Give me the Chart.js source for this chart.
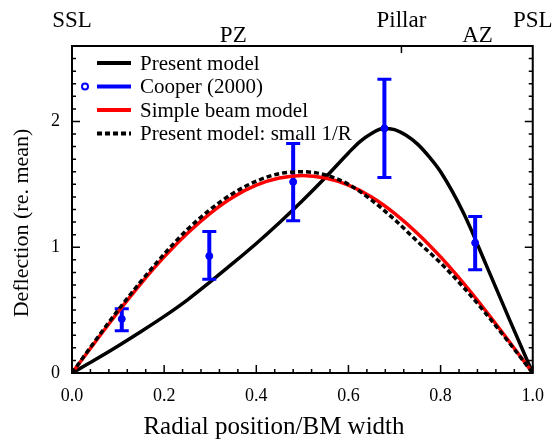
<!DOCTYPE html>
<html>
<head>
<meta charset="utf-8">
<script src="https://cdn.jsdelivr.net/npm/chart.js@4.4.0/dist/chart.umd.min.js"></script>
<style>
html, body { margin: 0; padding: 0; background: #fff; }
</style>
</head>
<body>
<canvas id="deflChart" width="556" height="443"></canvas>
<script>
const serif = '"Liberation Serif", "Times New Roman", serif';

// radial positions (fraction of BM width) the curves were read at
const xPos = [0, 0.05, 0.1, 0.15, 0.2, 0.25, 0.3, 0.35, 0.4, 0.45, 0.5,
              0.55, 0.6, 0.65, 0.7, 0.75, 0.8, 0.85, 0.9, 0.95, 1.0];
const presentX = [0, 0.05, 0.1, 0.15, 0.2, 0.25, 0.3, 0.35, 0.4, 0.45, 0.5, 0.55,
                  0.6, 0.625, 0.65, 0.675, 0.7, 0.725, 0.75, 0.775, 0.8, 0.85, 0.9, 0.95, 1.0];
const presentModel = [0, 0.105, 0.215, 0.33, 0.45, 0.58, 0.725, 0.875, 1.03, 1.195, 1.37, 1.555,
                      1.75, 1.84, 1.905, 1.945, 1.935, 1.89, 1.82, 1.72, 1.6, 1.27, 0.85, 0.42, 0];
const simpleBeam = [0, 0.245, 0.485, 0.713, 0.923, 1.11, 1.27, 1.4, 1.494, 1.55, 1.571,
                    1.55, 1.494, 1.4, 1.27, 1.11, 0.923, 0.713, 0.485, 0.245, 0];
const smallInvR = [0, 0.255, 0.5, 0.73, 0.945, 1.14, 1.3, 1.43, 1.525, 1.585, 1.6,
                   1.575, 1.5, 1.375, 1.22, 1.045, 0.875, 0.68, 0.465, 0.235, 0];

// Cooper (2000) measurements with error bars
const cooperX = [0.108, 0.298, 0.48, 0.678, 0.875];
const cooperY = [0.43, 0.93, 1.52, 1.945, 1.035];
const cooperLow = [0.335, 0.745, 1.21, 1.555, 0.82];
const cooperHigh = [0.51, 1.125, 1.825, 2.336, 1.245];

// labels along the top edge
const topNames = ['SSL', 'PZ', 'Pillar', 'AZ', 'PSL'];
const topSpots = [0, 0.35, 0.715, 0.88, 1.0];
const topRows = [0, 1, 0, 1, 0];

const legendNames = ['Present model', 'Cooper (2000)', 'Simple beam model', 'Present model: small 1/R'];
const xTitle = 'Radial position/BM width';
const yTitle = 'Deflection (re. mean)';

function pts(xs, ys) {
    return xs.map((x, i) => ({ x: x, y: ys[i] }));
}

// error bars for the Cooper points, drawn right after that dataset
const errorBars = {
    id: 'errorBars',
    afterDatasetDraw(chart, args) {
        if (args.index !== 1) return;
        const { ctx, scales: { x, y } } = chart;
        ctx.save();
        ctx.strokeStyle = '#0000ff';
        cooperX.forEach((v, i) => {
            const px = x.getPixelForValue(v);
            const top = y.getPixelForValue(cooperHigh[i]);
            const bot = y.getPixelForValue(cooperLow[i]);
            ctx.lineWidth = 4;
            ctx.beginPath();
            ctx.moveTo(px, top);
            ctx.lineTo(px, bot);
            ctx.stroke();
            ctx.lineWidth = 3;
            ctx.beginPath();
            ctx.moveTo(px - 7, top); ctx.lineTo(px + 7, top);
            ctx.moveTo(px - 7, bot); ctx.lineTo(px + 7, bot);
            ctx.stroke();
        });
        ctx.restore();
    }
};

// box frame, inward ticks, legend, top labels and axis titles
const decorations = {
    id: 'decorations',
    afterDraw(chart) {
        const { ctx, chartArea: a, scales: { x, y } } = chart;
        ctx.save();
        ctx.strokeStyle = '#000';
        ctx.lineWidth = 1.5;
        ctx.beginPath();
        for (let i = 0; i <= 26; i++) {
            const py = y.getPixelForValue(i / 10);
            const len = i % 10 === 0 ? 8 : 4;
            ctx.moveTo(a.left, py); ctx.lineTo(a.left + len, py);
            ctx.moveTo(a.right, py); ctx.lineTo(a.right - len, py);
        }
        for (let i = 0; i <= 25; i++) {
            const px = x.getPixelForValue(i * 0.04);
            const len = i % 5 === 0 ? 8 : 4;
            ctx.moveTo(px, a.bottom); ctx.lineTo(px, a.bottom - len);
        }
        const pillarPx = x.getPixelForValue(topSpots[2]);
        ctx.moveTo(pillarPx, a.top); ctx.lineTo(pillarPx, a.top + 7);
        ctx.stroke();
        ctx.lineWidth = 2;
        ctx.strokeRect(a.left, a.top, a.right - a.left, a.bottom - a.top);

        // legend
        const rowY = [63, 86.5, 110, 133.5];
        ctx.font = '21px ' + serif;
        ctx.textBaseline = 'middle';
        ctx.textAlign = 'left';
        chart.data.datasets.forEach((ds, i) => {
            const ly = rowY[i];
            ctx.strokeStyle = ds.borderColor;
            ctx.lineWidth = 4;
            ctx.setLineDash(ds.borderDash || []);
            ctx.beginPath();
            ctx.moveTo(97, ly); ctx.lineTo(131, ly);
            ctx.stroke();
            ctx.setLineDash([]);
            if (i === 1) {
                ctx.lineWidth = 2;
                ctx.beginPath();
                ctx.arc(85, ly, 3, 0, Math.PI * 2);
                ctx.stroke();
            }
            ctx.fillStyle = '#000';
            ctx.fillText(legendNames[i], 140, ly + 1);
        });

        // top labels
        ctx.font = '23px ' + serif;
        ctx.textAlign = 'center';
        ctx.textBaseline = 'alphabetic';
        topNames.forEach((t, i) => {
            ctx.fillText(t, x.getPixelForValue(topSpots[i]), topRows[i] ? 42 : 27);
        });

        // axis titles
        ctx.font = '25px ' + serif;
        ctx.fillText(xTitle, 274, 434);
        ctx.translate(28, 223);
        ctx.rotate(-Math.PI / 2);
        ctx.font = '22px ' + serif;
        ctx.fillText(yTitle, 0, 0);
        ctx.restore();
    }
};

const ctx = document.getElementById('deflChart').getContext('2d');

const deflChart = new Chart(ctx, {
    type: 'scatter',
    data: {
        datasets: [
            {
                label: legendNames[0],
                data: pts(presentX, presentModel),
                showLine: true,
                borderColor: '#000000',
                borderWidth: 3.5,
                pointRadius: 0,
                cubicInterpolationMode: 'monotone',
                order: 3
            },
            {
                label: legendNames[1],
                data: pts(cooperX, cooperY),
                showLine: false,
                borderColor: '#0000ff',
                backgroundColor: '#0000ff',
                pointRadius: 3.5,
                order: 2
            },
            {
                label: legendNames[2],
                data: pts(xPos, simpleBeam),
                showLine: true,
                borderColor: '#ff0000',
                borderWidth: 3.5,
                pointRadius: 0,
                cubicInterpolationMode: 'monotone',
                order: 1
            },
            {
                label: legendNames[3],
                data: pts(xPos, smallInvR),
                showLine: true,
                borderColor: '#000000',
                borderWidth: 3.5,
                borderDash: [5, 3],
                pointRadius: 0,
                cubicInterpolationMode: 'monotone',
                order: 0
            }
        ]
    },
    options: {
        responsive: false,
        animation: false,
        events: [],
        layout: { padding: { top: 46, right: 20, left: 0, bottom: 0 } },
        plugins: {
            legend: { display: false },
            tooltip: { enabled: false }
        },
        scales: {
            x: {
                type: 'linear',
                min: 0,
                max: 1,
                afterFit(scale) { scale.height = 70; },
                grid: { display: false, drawTicks: false },
                border: { display: false },
                ticks: {
                    stepSize: 0.2,
                    includeBounds: false,
                    autoSkip: false,
                    maxRotation: 0,
                    padding: 12,
                    color: '#000',
                    font: { family: serif, size: 18 },
                    callback: v => v.toFixed(1)
                }
            },
            y: {
                min: 0,
                max: 2.6,
                afterFit(scale) { scale.width = 72; },
                grid: { display: false, drawTicks: false },
                border: { display: false },
                ticks: {
                    stepSize: 1,
                    includeBounds: false,
                    padding: 12,
                    color: '#000',
                    font: { family: serif, size: 18 },
                    callback: v => String(v)
                }
            }
        }
    },
    plugins: [errorBars, decorations]
});
</script>
</body>
</html>
